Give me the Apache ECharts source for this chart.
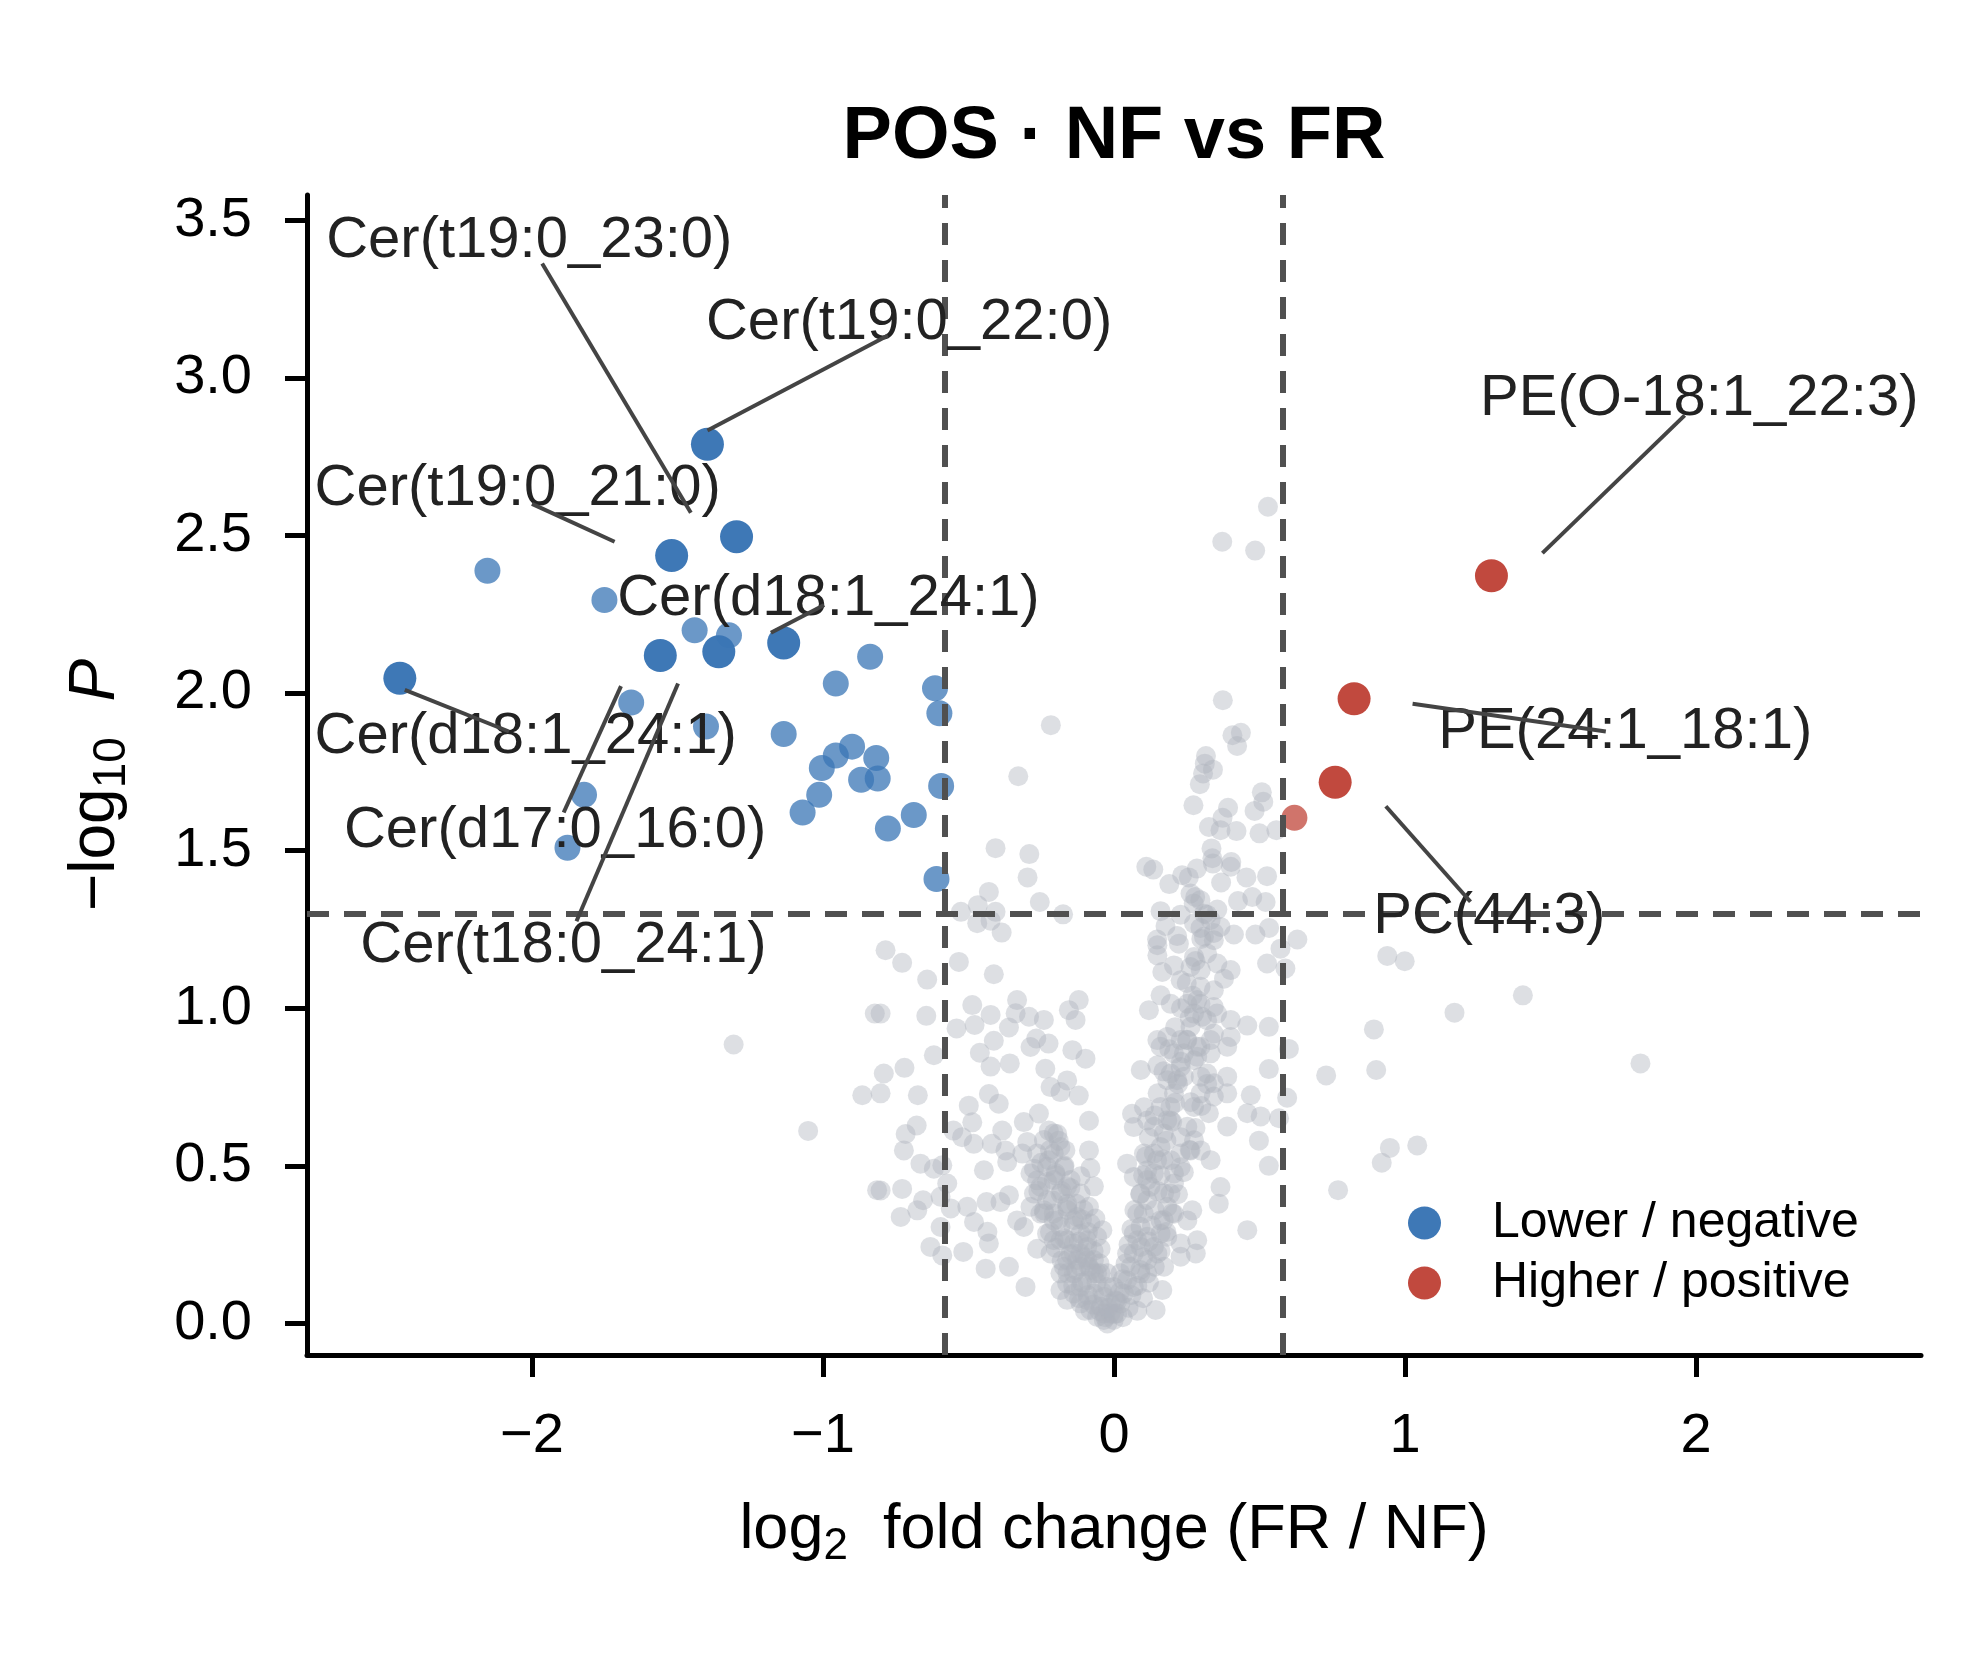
<!DOCTYPE html>
<html>
<head>
<meta charset="utf-8">
<title>POS · NF vs FR</title>
<script src="https://cdn.jsdelivr.net/npm/echarts@6/dist/echarts.min.js"></script>
<style>
  html, body { margin: 0; padding: 0; background: #fff; }
  #chart { width: 1984px; height: 1653px; }
</style>
</head>
<body>
<div id="chart"></div>
<script>
/* ---------- data (log2 FC, -log10 P) ---------- */
const xTicks = [-2, -1, 0, 1, 2];
const yTicks = [0, 0.5, 1, 1.5, 2, 2.5, 3, 3.5];

// not significant, scattered points
const nsPoints = [
  [0.529,2.591],[0.372,2.480],[0.485,2.452],[-0.217,1.898],[0.374,1.977],[0.407,1.866],[0.436,1.874],[0.423,1.832],
  [0.316,1.800],[0.312,1.776],[0.340,1.757],[0.306,1.745],[0.295,1.711],[-0.329,1.736],[0.273,1.644],[0.392,1.636],
  [0.508,1.685],[0.513,1.655],[0.483,1.626],[0.373,1.604],[0.326,1.575],[0.366,1.565],[0.421,1.562],[0.500,1.555],
  [0.558,1.565],[0.335,1.507],[0.338,1.476],[-0.407,1.508],[-0.291,1.489],[-0.297,1.415],[0.111,1.449],[0.135,1.440],
  [0.403,1.464],[0.401,1.449],[0.340,1.459],[0.285,1.443],[0.234,1.422],[0.257,1.415],[0.190,1.394],[0.455,1.415],
  [0.526,1.419],[0.368,1.399],[0.279,1.353],[0.274,1.332],[0.426,1.340],[0.475,1.353],[0.521,1.337],[-0.430,1.369],
  [-0.468,1.327],[-0.526,1.306],[-0.407,1.306],[-0.255,1.337],[-0.175,1.298],[-0.470,1.270],[-0.424,1.278],[-0.386,1.240],
  [0.160,1.308],[0.177,1.261],[0.229,1.297],[0.320,1.297],[0.355,1.313],[0.297,1.255],[0.343,1.239],[0.412,1.234],
  [0.486,1.234],[0.533,1.255],[0.630,1.218],[0.148,1.218],[0.217,1.229],
  [-0.785,1.184],[-0.728,1.144],[-0.642,1.091],[-0.533,1.147],[-0.413,1.108],[-0.802,0.983],[-0.645,0.976],[-0.619,0.851],
  [-0.720,0.811],[-0.791,0.793],[-0.802,0.730],[-0.674,0.724],[-0.541,0.936],[-0.487,1.010],[-0.479,0.947],[-0.424,0.979],
  [-0.361,0.939],[-0.333,1.026],[-0.338,0.984],[-0.292,0.973],[-0.241,0.963],[-0.461,0.859],[-0.413,0.897],[-0.358,0.825],
  [-0.424,0.815],[-0.287,0.877],[-0.267,0.904],[-0.225,0.888],[-0.236,0.808],[-0.155,0.994],[-0.121,1.026],[-0.132,0.963],
  [-0.143,0.867],[-0.098,0.840],[-0.161,0.771],[-0.218,0.750],[-0.184,0.734],[-0.121,0.723],[-0.499,0.691],[-0.430,0.728],
  [-0.396,0.697],[-0.487,0.638],[-0.552,0.612],[-0.678,0.628],[-0.716,0.601],[-0.722,0.549],[-0.665,0.507],[-0.619,0.491],
  [-0.590,0.502],[-0.573,0.444],[-0.596,0.402],[-0.561,0.365],[-0.728,0.427],[-0.802,0.422],[-0.733,0.338],[-0.676,0.359],
  [-0.656,0.391],[-0.596,0.306],[-0.631,0.243],[-0.590,0.216],[-0.518,0.227],[-0.504,0.370],[-0.481,0.322],[-0.435,0.291],
  [-0.430,0.254],[-0.441,0.174],[-0.361,0.180],[-0.304,0.116],[-0.522,0.591],[-0.482,0.570],[-0.420,0.570],[-0.384,0.612],
  [-0.373,0.549],[-0.367,0.512],[-0.447,0.486],[-0.438,0.385],[-0.390,0.385],[-0.361,0.407],[-0.310,0.639],[-0.258,0.666],
  [-0.086,0.643],[-0.298,0.576],[-0.315,0.539],[-0.275,0.491],[-0.264,0.454],[-0.224,0.612],[-0.195,0.601],[-0.167,0.549],
  [-0.086,0.549],[-0.224,0.518],[-0.201,0.477],[-0.161,0.435],[-0.115,0.467],[-0.081,0.493],[-0.069,0.435],[-0.333,0.327],
  [-0.310,0.306],[-0.287,0.370],[-0.241,0.359],[-0.207,0.327],[-0.161,0.380],[-0.127,0.338],[-0.086,0.370],[-0.064,0.333],
  [-0.264,0.237],[-0.230,0.285],[-0.184,0.264],[-0.138,0.254],[-0.092,0.264],[-0.040,0.296],[-0.046,0.237],[-0.172,0.180],
  [-0.127,0.201],[-0.086,0.180],[-0.058,0.159],[-0.184,0.106],[-0.161,0.075],[-0.115,0.064],[-0.081,0.043],[-0.035,0.032],
  [0.143,0.043],[0.166,0.106],[0.114,0.159],[0.092,0.243],[0.114,0.275],[0.160,0.327],[0.183,0.275],[0.149,0.222],
  [0.172,0.180],[0.229,0.212],[0.281,0.222],[0.286,0.264],[0.229,0.254],[0.252,0.327],[0.269,0.359],[0.206,0.348],
  [0.172,0.412],[0.206,0.444],[0.068,0.465],[0.114,0.486],[0.045,0.507],[0.103,0.539],[0.195,0.518],[0.229,0.496],
  [0.229,0.591],[0.275,0.581],[0.298,0.549],[0.332,0.518],[0.263,0.549],[0.366,0.433],[0.360,0.380],[0.458,0.296],
  [0.062,0.665],[0.068,0.623],[0.114,0.644],[0.103,0.686],[0.195,0.644],[0.263,0.702],[0.092,0.804],[0.149,0.819],
  [0.195,0.793],[0.240,0.783],[0.286,0.846],[0.298,0.783],[0.343,0.762],[0.389,0.783],[0.343,0.720],[0.389,0.730],
  [0.326,0.667],[0.389,0.625],[0.458,0.667],[0.470,0.724],[0.504,0.657],[0.567,0.651],[0.498,0.580],[0.532,0.500],
  [0.595,0.716],[0.532,0.807],[0.601,0.871],[0.120,0.994],[0.160,0.878],[0.149,0.899],[0.183,0.909],[0.160,1.041],
  [0.195,1.014],[0.252,1.014],[0.303,0.973],[0.297,1.014],[0.343,1.004],[0.343,1.057],[0.401,0.963],[0.401,0.909],
  [0.389,0.878],[0.458,0.945],[0.532,0.941],[0.286,0.878],[0.332,0.899],[0.149,1.200],[0.149,1.168],[0.166,1.115],
  [0.206,1.136],[0.223,1.205],[0.275,1.163],[0.298,1.121],[0.355,1.142],[0.378,1.094],[0.401,1.121],[0.526,1.142],
  [0.572,1.189],[0.589,1.126],
  [0.939,1.166],[0.999,1.149],[1.405,1.041],[1.170,0.986],[0.893,0.933],[1.809,0.825],[0.729,0.787],[0.901,0.804],
  [0.948,0.557],[1.042,0.565],[0.920,0.510],[0.770,0.423],
  [-1.307,0.885],[-1.051,0.611],[-0.822,0.983],[-0.865,0.724],[-0.814,0.423]
];

// dense V-shaped core near the origin
const nsCore = [
  [-0.264,0.539],[-0.230,0.497],[-0.207,0.455],[-0.184,0.412],[-0.161,0.370],[-0.138,0.328],[-0.115,0.285],[-0.092,0.243],
  [-0.069,0.201],[-0.046,0.159],[-0.023,0.116],[-0.012,0.063],[-0.287,0.476],[-0.253,0.434],[-0.230,0.391],[-0.207,0.349],
  [-0.184,0.307],[-0.161,0.264],[-0.138,0.222],[-0.115,0.180],[-0.092,0.137],[-0.069,0.095],[-0.046,0.053],[-0.207,0.539],
  [-0.172,0.497],[-0.149,0.455],[-0.115,0.412],[-0.104,0.360],[-0.081,0.317],[-0.058,0.275],[-0.184,0.159],[-0.161,0.127],
  [-0.138,0.095],[-0.115,0.116],[-0.092,0.074],[-0.058,0.021],[-0.035,0.011],[-0.023,0.000],[-0.161,0.201],[-0.115,0.222],
  [-0.069,0.159],[-0.035,0.085],[-0.207,0.603],[-0.241,0.582],[-0.184,0.560],[-0.275,0.412],[-0.253,0.349],[-0.207,0.264],
  [-0.218,0.222],[-0.138,0.159],[-0.092,0.201],[-0.023,0.159],[-0.001,0.116],
  [0.011,0.032],[0.022,0.063],[0.034,0.095],[0.045,0.137],[0.057,0.180],[0.068,0.222],[0.080,0.264],[0.091,0.307],
  [0.102,0.349],[0.114,0.391],[0.125,0.434],[0.137,0.476],[0.148,0.518],[0.160,0.560],[0.171,0.603],[0.183,0.645],
  [0.194,0.687],[0.206,0.730],[0.217,0.772],[0.229,0.814],[0.240,0.857],[0.252,0.899],[0.263,0.941],[0.275,0.983],
  [0.286,1.026],[0.297,1.068],[0.068,0.116],[0.091,0.159],[0.114,0.201],[0.137,0.243],[0.160,0.285],[0.171,0.328],
  [0.183,0.370],[0.194,0.412],[0.206,0.476],[0.229,0.539],[0.252,0.624],[0.275,0.687],[0.297,0.730],[0.320,0.793],
  [0.332,0.857],[0.343,0.920],[0.354,0.983],[0.022,0.159],[0.045,0.222],[0.068,0.285],[0.080,0.349],[0.091,0.412],
  [0.114,0.455],[0.137,0.539],[0.137,0.624],[0.160,0.687],[0.183,0.772],[0.206,0.857],[0.229,0.899],[0.275,0.835],
  [0.297,0.878],[0.320,0.962],[0.229,1.089],[0.263,1.131],[0.320,1.174],[0.343,1.216],[-0.001,0.011],[-0.012,0.032],
  [0.005,0.074],[0.263,1.364],[0.297,1.343],[0.332,1.280],[0.275,1.269],[0.366,1.258],[0.309,1.227],
  [-0.03,0.02],[-0.05,0.04],[-0.07,0.06],[-0.09,0.09],[-0.11,0.13],[-0.13,0.17],[-0.15,0.22],[-0.17,0.27],
  [-0.19,0.33],[-0.21,0.39],[-0.23,0.45],[-0.25,0.51],[-0.04,0.10],[-0.06,0.13],[-0.08,0.17],[-0.10,0.21],
  [-0.12,0.26],[-0.14,0.31],[-0.16,0.36],[-0.18,0.42],[-0.20,0.47],[-0.22,0.55],[-0.10,0.04],[-0.12,0.08],
  [-0.14,0.12],[-0.16,0.16],[-0.18,0.20],[-0.20,0.24],[-0.22,0.29],[-0.24,0.35],[-0.26,0.42],[-0.02,0.05],
  [-0.05,0.19],[-0.07,0.23],[-0.09,0.29],[-0.11,0.33],[-0.13,0.38],[-0.15,0.43],[-0.17,0.50],[-0.19,0.58],
  [0.03,0.02],[0.05,0.05],[0.06,0.09],[0.08,0.12],[0.09,0.17],[0.10,0.21],[0.12,0.26],[0.13,0.31],
  [0.14,0.36],[0.15,0.42],[0.16,0.47],[0.17,0.52],[0.18,0.58],[0.20,0.64],[0.21,0.70],[0.22,0.76],
  [0.23,0.83],[0.25,0.90],[0.26,0.97],[0.27,1.04],[0.02,0.10],[0.03,0.14],[0.04,0.19],[0.05,0.25],
  [0.06,0.30],[0.07,0.36],[0.09,0.41],[0.10,0.47],[0.11,0.53],[0.12,0.59],[0.14,0.66],[0.15,0.73],
  [0.17,0.80],[0.19,0.87],[0.21,0.94],[0.23,1.00],[0.25,1.08],[0.28,1.15],[0.30,1.22],[0.31,1.30],
  [0.08,0.04],[0.10,0.08],[0.12,0.13],[0.14,0.18],[0.16,0.23],[0.18,0.29],[0.20,0.35],[0.22,0.41],
  [0.24,0.48],[0.26,0.55],[0.28,0.62],[0.30,0.69],[0.32,0.76],[0.00,0.03],[0.01,0.07]
];

// significant, lower in FR
const lowerBig = [[-1.397,2.789],[-1.520,2.436],[-1.297,2.496],[-1.559,2.119],[-1.358,2.131],[-1.135,2.159],[-2.454,2.047]];
const lowerSmall = [
  [-2.153,2.388],[-1.751,2.295],[-1.441,2.199],[-1.323,2.183],[-0.838,2.115],[-0.956,2.030],[-0.615,2.015],[-0.600,1.936],
  [-1.659,1.970],[-1.402,1.894],[-1.135,1.870],[-0.900,1.830],[-0.956,1.802],[-0.817,1.794],[-1.004,1.762],[-0.869,1.725],
  [-0.812,1.729],[-0.594,1.705],[-1.013,1.677],[-1.821,1.677],[-1.070,1.621],[-0.688,1.613],[-0.777,1.570],[-1.878,1.509],
  [-0.610,1.410]
];
// significant, higher in FR
const higherBig = [[1.297,2.372],[0.825,1.982],[0.760,1.717]];
const higherSmall = [[0.620,1.604]];

// annotations: text, left-middle anchor of text, leader line ends
const labelNames = ['Cer(t19:0_23:0)', 'Cer(t19:0_22:0)', 'Cer(t19:0_21:0)', 'Cer(d18:1_24:1)', 'Cer(d18:1_24:1)',
  'Cer(d17:0_16:0)', 'Cer(t18:0_24:1)', 'PE(O-18:1_22:3)', 'PE(24:1_18:1)', 'PC(44:3)'];
const labelAnchors = [[-2.707,3.435],[-1.402,3.174],[-2.747,2.648],[-1.707,2.299],[-2.747,1.862],
  [-2.646,1.561],[-2.590,1.196],[1.258,2.933],[1.114,1.878],[0.891,1.290]];
const leaderLines = [
  [[-1.965,3.363],[-1.454,2.572]],
  [[-0.777,3.134],[-1.397,2.833]],
  [[-2.000,2.600],[-1.716,2.480]],
  [[-0.996,2.279],[-1.179,2.191]],
  [[-2.437,2.010],[-2.079,1.878]],
  [[-1.891,1.621],[-1.694,2.022]],
  [[-1.847,1.276],[-1.498,2.030]],
  [[1.961,2.881],[1.472,2.444]],
  [[1.026,1.966],[1.690,1.878]],
  [[0.934,1.641],[1.225,1.338]]
];

// thresholds: |log2 FC| = log2(1.5), P = 0.05
const FC_CUT = 0.585;
const P_CUT = 1.301;

/* ---------- style ---------- */
const FONT = '"Liberation Sans", Arial, Helvetica, sans-serif';
const BLUE = '#3a75b5';
const RED = '#c0453a';
const GREY = '#adb2bd';

function minusFmt(v, digits) {
  const s = digits ? Math.abs(v).toFixed(digits) : String(Math.abs(v));
  return (v < 0 ? '\u2212' : '') + s;
}

const chart = echarts.init(document.getElementById('chart'), null, { renderer: 'canvas' });

chart.setOption({
  animation: false,
  backgroundColor: '#ffffff',
  title: {
    text: 'POS · NF vs FR',
    left: 1114,
    top: 101,
    padding: 0,
    textAlign: 'center',
    textStyle: { fontFamily: FONT, fontWeight: 'bold', fontSize: 74, color: '#000' }
  },
  grid: { left: 307, right: 63, top: 195, bottom: 298, containLabel: false, outerBoundsMode: 'none' },
  xAxis: {
    type: 'value',
    min: -2.773,
    max: 2.773,
    axisLine: { onZero: false, lineStyle: { color: '#000', width: 5 } },
    axisTick: { customValues: xTicks, length: 22, lineStyle: { color: '#000', width: 5 } },
    axisLabel: {
      customValues: xTicks, margin: 54, fontSize: 56, color: '#000', fontFamily: FONT,
      formatter: function (v) { return minusFmt(v); }
    },
    splitLine: { show: false },
    name: 'log{sub|2}  fold change (FR / NF)',
    nameLocation: 'middle',
    nameGap: 138,
    nameTextStyle: {
      fontFamily: FONT, fontSize: 63, color: '#000',
      rich: { sub: { fontFamily: FONT, fontSize: 44, color: '#000', padding: [32, 0, 0, 0] } }
    }
  },
  yAxis: {
    type: 'value',
    min: -0.1,
    max: 3.58,
    axisLine: { onZero: false, lineStyle: { color: '#000', width: 5 } },
    axisTick: { customValues: yTicks, length: 22, lineStyle: { color: '#000', width: 5 } },
    axisLabel: {
      customValues: yTicks, margin: 55, fontSize: 56, color: '#000', fontFamily: FONT,
      formatter: function (v) { return minusFmt(v, 1); }
    },
    splitLine: { show: false },
    name: '\u2212log{sub|10}  {it|P}',
    nameLocation: 'middle',
    nameRotate: 90,
    nameGap: 172,
    nameTextStyle: {
      fontFamily: FONT, fontSize: 64, color: '#000', padding: [0, 20, 0, 0],
      rich: {
        sub: { fontFamily: FONT, fontSize: 46, color: '#000', padding: [32, 0, 0, 0] },
        it: { fontFamily: FONT, fontSize: 64, fontStyle: 'italic', color: '#000' }
      }
    }
  },
  legend: {
    orient: 'vertical',
    left: 1408,
    top: 1195,
    padding: 0,
    itemGap: 4,
    itemWidth: 33,
    itemHeight: 33,
    icon: 'circle',
    data: ['Lower / negative', 'Higher / positive'],
    textStyle: { fontFamily: FONT, fontSize: 50, color: '#000', lineHeight: 56, padding: [0, 0, 0, 46] }
  },
  series: [
    {
      // threshold lines
      type: 'scatter',
      data: [],
      silent: true,
      z: 1,
      markLine: {
        silent: true,
        symbol: ['none', 'none'],
        label: { show: false },
        lineStyle: { color: '#505050', width: 6, type: [22, 15] },
        data: [{ xAxis: -FC_CUT }, { xAxis: FC_CUT }, { yAxis: P_CUT }]
      }
    },
    {
      name: 'ns',
      type: 'scatter',
      data: nsPoints.concat(nsCore),
      symbolSize: 20,
      silent: true,
      z: 2,
      itemStyle: { color: GREY, opacity: 0.42 }
    },
    {
      name: 'Lower / negative',
      type: 'scatter',
      data: lowerBig,
      symbolSize: 33,
      z: 5,
      itemStyle: { color: BLUE, opacity: 0.98 }
    },
    {
      name: 'Lower / negative',
      type: 'scatter',
      data: lowerSmall,
      symbolSize: 26,
      z: 4,
      itemStyle: { color: BLUE, opacity: 0.75 }
    },
    {
      name: 'Higher / positive',
      type: 'scatter',
      data: higherBig,
      symbolSize: 33,
      z: 5,
      itemStyle: { color: RED, opacity: 0.98 }
    },
    {
      name: 'Higher / positive',
      type: 'scatter',
      data: higherSmall,
      symbolSize: 26,
      z: 4,
      itemStyle: { color: RED, opacity: 0.75 }
    },
    {
      name: 'labels',
      type: 'scatter',
      symbolSize: 0,
      silent: true,
      z: 6,
      itemStyle: { opacity: 1 },
      data: labelNames.map(function (n, i) { return { name: n, value: labelAnchors[i] }; }),
      label: {
        show: true,
        position: 'right',
        distance: 0,
        formatter: '{b}',
        fontFamily: FONT,
        fontSize: 58,
        color: '#222222'
      }
    },
    {
      name: 'leaders',
      type: 'lines',
      coordinateSystem: 'cartesian2d',
      silent: true,
      z: 7,
      symbol: ['none', 'none'],
      lineStyle: { color: '#444444', width: 4, opacity: 1 },
      data: leaderLines.map(function (c) { return { coords: c }; })
    }
  ]
});
</script>
</body>
</html>
